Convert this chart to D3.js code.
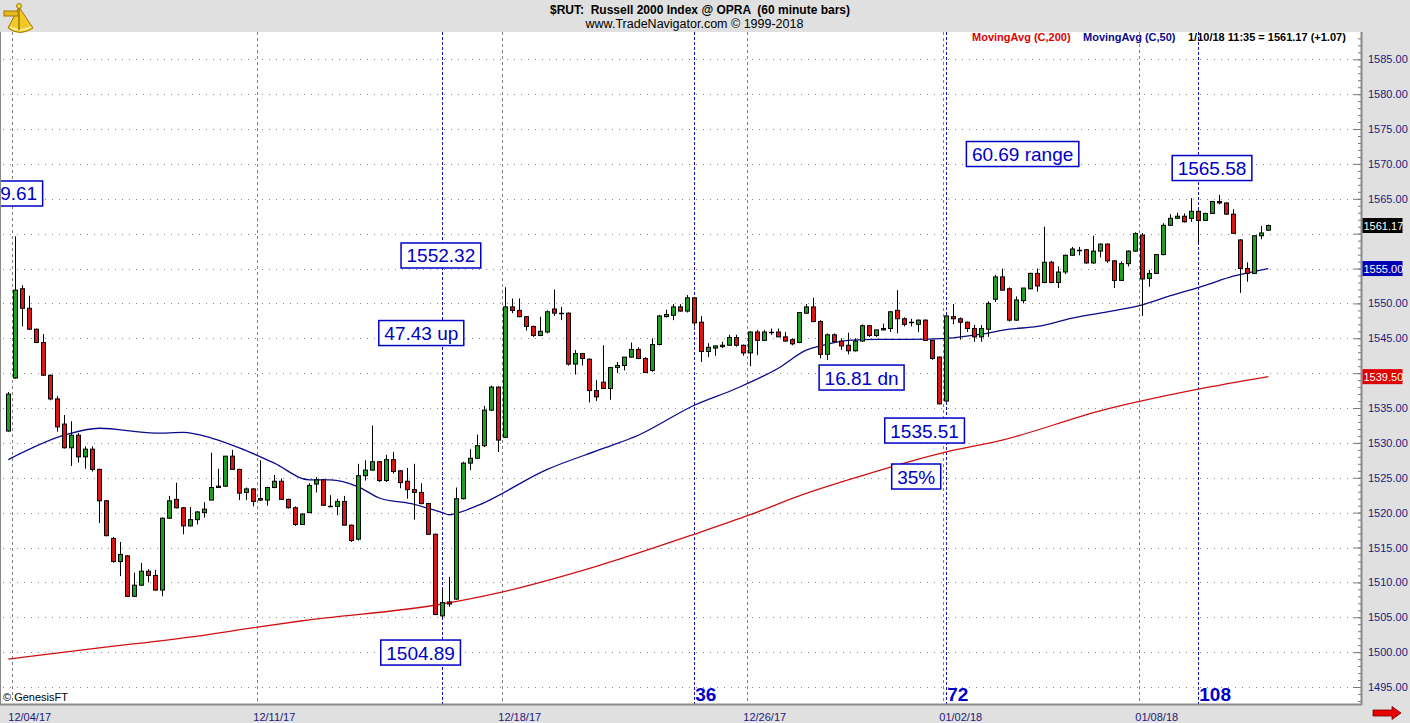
<!DOCTYPE html>
<html>
<head>
<meta charset="utf-8">
<style>
    body, html { margin: 0; padding: 0; background: #fff; }
    svg { display: block; font-family: "Liberation Sans", Arial, sans-serif; }
</style>
</head>
<body>
<svg width="1410" height="723"></svg>
<script src="https://d3js.org/d3.v7.min.js"></script>
<script>
// 60 minute bars, index 0 = last bar of 12/01/17
var opens = [1531.7,1539.3,1552.1,1549.3,1546.3,1544.4,1539.7,1536.3,1532.7,1529.3,1531.1,1528.0,1529.1,1526.2,1521.7,1516.3,1513.0,1513.8,1508.0,1509.6,
    1511.6,1511.0,1508.9,1519.2,1521.9,1520.7,1518.1,1519.0,1520.0,1521.8,1523.6,1523.8,1528.1,1526.2,1522.9,1523.4,1522.0,1521.8,1523.6,1524.5,
    1521.9,1520.7,1518.3,1520.0,1524.1,1524.7,1521.05,1520.9,1521.6,1518.2,1516.2,1525.3,1526.1,1527.3,1524.6,1527.6,1526.0,1524.5,1523.3,1522.9,
    1521.3,1516.9,1505.2,1507.2,1507.6,1522.0,1527.1,1527.8,1529.6,1534.7,1538.0,1530.8,1549.5,1549.0,1548.1,1546.7,1545.4,1545.9,1549.2,1548.6,
    1548.6,1541.3,1542.8,1542.0,1537.5,1538.7,1537.8,1540.8,1541.1,1542.3,1543.4,1542.1,1540.4,1544.1,1548.1,1548.3,1549.5,1548.9,1550.8,1547.3,
    1543.1,1543.6,1543.8,1544.0,1545.1,1544.0,1542.9,1545.9,1544.7,1545.9,1545.9,1545.2,1544.8,1544.4,1548.6,1549.5,1547.4,1542.7,1545.5,1544.6,
    1544.0,1543.2,1544.6,1546.8,1545.4,1546.2,1546.4,1549.0,1547.8,1547.3,1547.0,1547.6,1544.7,1542.3,1536.0,1548.1,1547.8,1547.3,1546.4,1545.2,
    1546.3,1550.6,1553.8,1552.1,1547.6,1550.4,1552.1,1554.3,1553.0,1555.9,1553.0,1554.5,1556.9,1557.7,1557.7,1555.8,1557.5,1558.5,1556.1,1553.3,
    1555.7,1557.5,1559.8,1553.6,1554.3,1557.0,1561.2,1562.2,1562.5,1562.2,1563.2,1561.9,1562.9,1564.6,1564.4,1562.8,1559.1,1555.0,1554.3,1559.7,
    1560.5];
var highs = [1537.3,1559.61,1552.6,1551.1,1546.4,1545.6,1539.8,1536.7,1534.0,1533.1,1531.4,1529.5,1529.5,1526.3,1521.8,1516.5,1515.8,1513.9,1511.4,1512.8,
    1511.9,1511.8,1519.3,1522.4,1524.3,1520.8,1520.8,1520.2,1521.5,1528.6,1526.3,1528.1,1529.0,1526.3,1523.6,1523.5,1527.5,1523.7,1525.4,1524.9,
    1522.0,1520.9,1519.9,1524.2,1525.1,1524.8,1522.5,1522.0,1522.4,1518.3,1527.0,1527.5,1532.5,1527.4,1528.3,1528.7,1526.1,1526.4,1527.0,1524.2,
    1521.4,1517.0,1509.2,1510.8,1523.6,1527.3,1529.1,1531.2,1535.3,1538.2,1538.1,1552.32,1550.7,1550.7,1548.2,1546.8,1548.1,1549.0,1552.0,1549.5,
    1548.7,1543.3,1542.9,1542.1,1539.0,1544.0,1540.9,1541.6,1542.3,1544.4,1543.7,1542.3,1545.0,1548.3,1549.1,1549.9,1549.9,1551.2,1550.9,1548.2,
    1544.3,1544.0,1544.5,1545.5,1545.5,1544.1,1546.0,1546.2,1546.2,1546.4,1546.4,1545.9,1545.0,1548.7,1549.9,1550.8,1547.6,1545.7,1545.7,1545.0,
    1545.8,1545.0,1547.0,1546.9,1546.2,1547.1,1548.9,1551.9,1548.0,1547.8,1547.7,1547.7,1544.8,1542.4,1548.3,1549.9,1548.0,1547.4,1546.9,1546.9,
    1550.3,1554.1,1555.0,1552.3,1551.0,1552.2,1554.4,1555.0,1561.0,1556.1,1555.3,1557.0,1558.1,1558.1,1557.8,1559.7,1558.6,1558.6,1556.2,1556.0,
    1557.6,1560.2,1560.1,1554.8,1557.1,1561.5,1562.8,1563.0,1562.9,1565.1,1563.4,1563.0,1564.7,1565.58,1564.5,1563.5,1559.2,1555.9,1559.7,1561.1,
    1561.3];
var lows = [1531.6,1539.2,1546.7,1546.2,1544.3,1539.6,1536.1,1531.6,1529.2,1526.7,1527.2,1526.3,1525.9,1518.5,1516.6,1512.8,1510.9,1507.9,1507.9,1509.5,
    1510.0,1508.8,1508.0,1519.1,1520.6,1516.9,1518.0,1518.3,1519.3,1521.8,1523.6,1523.7,1526.2,1521.8,1521.8,1520.9,1521.7,1521.0,1523.5,1521.9,
    1520.6,1518.1,1518.3,1520.0,1522.9,1521.0,1520.9,1519.6,1518.2,1515.8,1516.0,1524.6,1526.0,1524.4,1524.4,1525.6,1523.5,1522.0,1519.0,1521.2,
    1516.8,1505.3,1504.89,1506.5,1507.5,1521.9,1526.1,1527.7,1529.4,1534.6,1528.7,1530.7,1548.6,1548.0,1546.1,1545.2,1545.3,1545.7,1548.2,1547.6,
    1541.1,1539.8,1541.1,1535.8,1536.0,1537.8,1536.2,1540.0,1540.4,1542.2,1542.0,1540.0,1540.2,1544.0,1548.0,1547.6,1548.8,1548.7,1546.7,1541.6,
    1542.3,1542.5,1543.6,1543.9,1543.8,1542.5,1541.0,1542.6,1544.6,1545.5,1545.2,1544.5,1544.0,1544.3,1548.5,1547.3,1542.1,1541.9,1544.4,1543.3,
    1542.7,1543.1,1544.5,1545.2,1545.2,1546.1,1545.9,1545.7,1546.7,1546.7,1545.9,1544.6,1541.9,1535.51,1535.9,1547.0,1544.8,1545.9,1544.5,1544.5,
    1545.2,1550.2,1551.9,1547.4,1547.5,1550.0,1552.0,1551.7,1552.9,1552.9,1552.2,1554.2,1556.8,1556.9,1555.7,1555.7,1556.6,1555.8,1552.2,1553.2,
    1555.3,1557.4,1548.2,1552.4,1554.2,1556.9,1561.1,1562.1,1561.6,1561.7,1558.8,1561.8,1562.8,1564.2,1562.7,1560.0,1551.5,1553.1,1554.2,1559.2,
    1560.4];
var closes = [1537.0,1551.9,1549.3,1546.3,1544.4,1539.7,1536.3,1532.3,1529.3,1531.1,1528.0,1529.1,1526.2,1521.7,1516.7,1513.0,1514.0,1508.0,1509.6,1511.6,
    1511.0,1508.9,1519.2,1521.7,1520.7,1518.1,1519.0,1520.1,1520.5,1523.6,1523.8,1528.1,1526.2,1522.8,1523.4,1521.6,1521.8,1523.6,1524.5,1521.9,
    1520.7,1518.3,1519.8,1523.9,1524.7,1521.05,1520.9,1521.6,1518.2,1516.0,1525.3,1526.1,1527.3,1524.6,1527.6,1525.9,1524.3,1523.3,1522.9,1521.3,
    1516.9,1505.4,1507.1,1506.9,1522.0,1527.1,1527.8,1529.6,1534.7,1538.0,1530.4,1549.5,1549.0,1548.1,1546.7,1545.4,1546.0,1548.8,1548.6,1548.6,
    1541.3,1542.8,1542.1,1537.5,1536.6,1537.8,1540.8,1541.1,1542.3,1543.4,1542.1,1540.1,1544.1,1548.2,1548.4,1549.5,1548.9,1550.8,1547.2,1543.1,
    1543.7,1543.9,1544.0,1545.1,1544.0,1542.9,1545.9,1544.7,1545.9,1545.95,1545.2,1544.6,1544.2,1548.7,1549.5,1547.4,1542.7,1545.5,1544.5,1543.9,
    1543.2,1544.6,1546.8,1545.4,1546.2,1546.4,1548.8,1547.8,1547.0,1547.3,1547.6,1544.7,1542.1,1535.6,1548.2,1547.8,1547.3,1546.4,1545.2,1546.4,
    1550.0,1553.8,1551.9,1547.6,1550.5,1552.2,1554.3,1552.5,1555.9,1553.0,1554.5,1556.9,1557.8,1557.7,1555.8,1557.5,1558.5,1556.1,1553.3,1555.7,
    1557.5,1560.0,1553.5,1554.3,1557.0,1561.2,1562.2,1562.5,1561.7,1563.2,1561.9,1562.9,1564.6,1564.4,1562.8,1560.05,1555.0,1554.3,1559.7,1560.1,
    1561.17];

// moving averages (bar index, value)
var ma50Bars = [0,8,13,21,25,29,33,38,43,46,50,53,58,62,63,64,67,77,85,90,98,104,110,114,116,120,124,129,134,139,143,147,152,157,162,166,171,175,180];
var ma50Vals = [1527.6,1531.1,1532.1,1531.4,1531.5,1530.7,1529.3,1527.1,1524.7,1524.7,1523.7,1522.1,1521.2,1520.0,1519.7,1519.9,1521.0,1526.2,1529.2,1531.1,
    1535.4,1537.8,1540.7,1543.3,1543.9,1544.7,1544.85,1544.85,1545.0,1545.6,1546.3,1546.7,1547.9,1548.8,1549.8,1551.1,1552.6,1553.9,1555.0];
var ma200Bars = [0,13,27,35,42,62,70,84,98,106,113,122,134,142,156,170,180];
var ma200Vals = [1499.0,1500.6,1502.3,1503.5,1504.5,1506.9,1508.5,1512.3,1516.9,1519.7,1522.4,1525.3,1528.7,1530.4,1534.6,1537.7,1539.5];

// date separators (between bars) and their labels
var dateBars = [0.5, 35.5, 70.5, 105.5, 133.5, 161.5];
var dateLabels = ["12/04/17", "12/11/17", "12/18/17", "12/26/17", "01/02/18", "01/08/18"];
// bar counts from the 1504.89 low
var countBars = [62, 98, 134, 170];
var countLabels = ["", "36", "72", "108"];

// boxed notes (the first one runs off the left edge, only "9.61" of it shows)
var noteText = ["9.61", "1552.32", "47.43 up", "1504.89", "16.81 dn", "1535.51", "35%", "60.69 range", "1565.58"];
var noteBar = [-0.95, 61.8, 59.0, 58.9, 121.9, 130.9, 129.7, 144.9, 171.96];
var noteVal = [1565.76, 1556.87, 1545.75, 1499.94, 1539.37, 1531.77, 1525.18, 1571.42, 1569.41];

var yTicks = d3.range(1495, 1586, 5);

// last values shown in the right axis
var markerVals = [1561.17, 1555.00, 1539.50];
var markerFills = ["#000", "#0000b4", "#e00000"];

var width = 1410, height = 723;
var plotLeft = 1, plotRight = 1361, plotTop = 32, plotBottom = 704;

var svg = d3.select("svg");
var x = d3.scaleLinear().domain([0, 180]).range([8.3, 1268.3]);
var y = d3.scaleLinear().domain([1495, 1585]).range([687, 59.3]);

// backgrounds
svg.append("rect").attr("width", width).attr("height", height).attr("fill", "#e0e0e0");
svg.append("rect").attr("x", plotLeft).attr("y", plotTop)
    .attr("width", plotRight - plotLeft).attr("height", plotBottom - plotTop).attr("fill", "#fff");

svg.append("defs").append("clipPath").attr("id", "plot")
    .append("rect").attr("x", plotLeft).attr("y", plotTop)
    .attr("width", plotRight - plotLeft).attr("height", plotBottom - plotTop);

var plot = svg.append("g").attr("clip-path", "url(#plot)");

// horizontal dotted grid
plot.selectAll(".hgrid").data(yTicks).enter().append("line")
    .attr("x1", plotLeft + 2).attr("x2", plotRight - 9)
    .attr("y1", function(d) { return Math.round(y(d)) + 0.5; })
    .attr("y2", function(d) { return Math.round(y(d)) + 0.5; })
    .attr("stroke", "#8a8a8a").attr("stroke-dasharray", "1 6");

// vertical date lines
plot.selectAll(".vgrid").data(dateBars).enter().append("line")
    .attr("x1", function(d) { return Math.round(x(d)) + 0.5; })
    .attr("x2", function(d) { return Math.round(x(d)) + 0.5; })
    .attr("y1", plotTop).attr("y2", plotBottom)
    .attr("stroke", "#808080").attr("stroke-dasharray", "3 3");

// count lines
plot.selectAll(".cgrid").data(countBars).enter().append("line")
    .attr("x1", function(d) { return Math.round(x(d)) + 0.5; })
    .attr("x2", function(d) { return Math.round(x(d)) + 0.5; })
    .attr("y1", plotTop).attr("y2", plotBottom)
    .attr("stroke", "#1010b0").attr("stroke-dasharray", "3 2");

// moving averages
var line = d3.line()
    .x(function(d) { return x(d[0]); })
    .y(function(d) { return y(d[1]); })
    .curve(d3.curveMonotoneX);

plot.append("path").datum(d3.zip(ma200Bars, ma200Vals)).attr("d", line)
    .attr("fill", "none").attr("stroke", "#d01010").attr("stroke-width", 1.3);
plot.append("path").datum(d3.zip(ma50Bars, ma50Vals)).attr("d", line)
    .attr("fill", "none").attr("stroke", "#0a0a8c").attr("stroke-width", 1.3);

// candles
var bars = d3.range(opens.length).map(function(i) {
    return { i: i, o: opens[i], h: highs[i], l: lows[i], c: closes[i] };
});

var candle = plot.selectAll(".candle").data(bars).enter().append("g");

candle.append("line")
    .attr("x1", function(d) { return Math.round(x(d.i)) + 0.5; })
    .attr("x2", function(d) { return Math.round(x(d.i)) + 0.5; })
    .attr("y1", function(d) { return y(d.h); })
    .attr("y2", function(d) { return y(d.l); })
    .attr("stroke", "#000").attr("stroke-width", 1);

candle.filter(function(d) { return Math.abs(d.o - d.c) >= 0.15; })
    .append("rect")
    .attr("x", function(d) { return Math.round(x(d.i)) - 2 + 0.5; })
    .attr("width", 4)
    .attr("y", function(d) { return y(Math.max(d.o, d.c)); })
    .attr("height", function(d) { return Math.max(1, y(Math.min(d.o, d.c)) - y(Math.max(d.o, d.c))); })
    .attr("fill", function(d) { return d.c >= d.o ? "#1f9f1f" : "#dc1414"; })
    .attr("stroke", "#000").attr("stroke-width", 1);

candle.filter(function(d) { return Math.abs(d.o - d.c) < 0.15; })
    .append("line")
    .attr("x1", function(d) { return Math.round(x(d.i)) - 2; })
    .attr("x2", function(d) { return Math.round(x(d.i)) + 3; })
    .attr("y1", function(d) { return Math.round(y(d.c)) + 0.5; })
    .attr("y2", function(d) { return Math.round(y(d.c)) + 0.5; })
    .attr("stroke", "#000").attr("stroke-width", 1.5);

// boxed notes
noteText.forEach(function(t, k) {
    var g = plot.append("g");
    var cx = x(noteBar[k]);
    var txt = g.append("text")
        .attr("y", y(noteVal[k]) + 7)
        .attr("font-size", "19px").attr("fill", "#0000c8")
        .text(t);
    var tw = txt.node().getComputedTextLength();
    // the first box is only partly on screen: keep its right edge where it was
    var w = k === 0 ? 82 : tw + 11;
    var left = cx - w / 2;
    txt.attr("x", k === 0 ? left + w - 5.5 - tw : cx - tw / 2);
    g.insert("rect", "text")
        .attr("x", left).attr("y", y(noteVal[k]) - 12.5)
        .attr("width", w).attr("height", 25)
        .attr("fill", "#fff").attr("stroke", "#0000c8").attr("stroke-width", 1.5);
});

// count labels
plot.selectAll(".count").data(countBars).enter().append("text")
    .attr("x", function(d) { return x(d) + 1; })
    .attr("y", 701)
    .attr("font-size", "19px").attr("font-weight", "bold").attr("fill", "#0000c8")
    .text(function(d, k) { return countLabels[k]; });

plot.append("text").attr("x", 3).attr("y", 701)
    .attr("font-size", "11px").attr("fill", "#000").text("\u00a9 GenesisFT");

// legend
var legend = svg.append("text").attr("y", 41).attr("font-size", "11px").attr("font-weight", "bold");
legend.append("tspan").attr("x", 972).attr("fill", "#e00000").text("MovingAvg (C,200)");
legend.append("tspan").attr("x", 1083).attr("fill", "#0a0a8c").text("MovingAvg (C,50)");
legend.append("tspan").attr("x", 1188).attr("fill", "#000").text("1/10/18 11:35 = 1561.17 (+1.07)");

// frame
svg.append("line").attr("x1", 0.5).attr("x2", 0.5).attr("y1", plotTop).attr("y2", plotBottom + 1)
    .attr("stroke", "#888").attr("stroke-width", 1);
svg.append("line").attr("x1", 0).attr("x2", plotRight + 1).attr("y1", plotBottom + 0.5).attr("y2", plotBottom + 0.5)
    .attr("stroke", "#8a8a8a").attr("stroke-width", 2);

// right axis
svg.append("g").attr("transform", "translate(" + plotRight + ",0)")
    .call(d3.axisLeft(y).tickValues(d3.range(1493, 1589, 1)).tickSize(3).tickFormat(""))
    .call(function(g) { g.select(".domain").remove(); g.selectAll("line").attr("stroke", "#777"); });
svg.append("g").attr("transform", "translate(" + plotRight + ",0)")
    .call(d3.axisLeft(y).tickValues(yTicks).tickSize(8).tickFormat(""))
    .call(function(g) { g.select(".domain").remove(); g.selectAll("line").attr("stroke", "#777"); });
svg.append("line").attr("x1", plotRight + 0.5).attr("x2", plotRight + 0.5)
    .attr("y1", plotTop).attr("y2", plotBottom + 1).attr("stroke", "#8a8a8a").attr("stroke-width", 2);

// labels hidden behind a last value marker are left out
var labelTicks = yTicks.filter(function(v) {
    return markerVals.every(function(m) { return Math.abs(y(v) - y(m)) > 13; });
});
svg.append("g").attr("transform", "translate(" + (plotRight + 1) + ",0)")
    .call(d3.axisRight(y).tickValues(labelTicks).tickSize(0).tickPadding(6).tickFormat(d3.format(".2f")))
    .call(function(g) {
        g.select(".domain").remove();
        g.selectAll("text").attr("fill", "#1a1a7a").attr("font-size", "11px")
            .attr("font-family", "'Liberation Sans', Arial, sans-serif");
    });

// last value markers
markerVals.forEach(function(v, k) {
    svg.append("rect").attr("x", plotRight + 1.5).attr("y", y(v) - 7.5)
        .attr("width", 40).attr("height", 15).attr("fill", markerFills[k]);
    svg.append("text").attr("x", plotRight + 2.5).attr("y", y(v) + 4)
        .attr("font-size", "11px").attr("fill", "#fff").text(d3.format(".2f")(v));
});

// bottom date axis
svg.append("g").attr("transform", "translate(0," + plotBottom + ")")
    .call(d3.axisBottom(x).tickValues(dateBars).tickSize(0).tickPadding(9)
        .tickFormat(function(d, k) { return dateLabels[k]; }))
    .call(function(g) {
        g.select(".domain").remove();
        g.selectAll("text").attr("text-anchor", "start").attr("dx", "-4")
            .attr("fill", "#1a1a7a").attr("font-size", "11px")
            .attr("font-family", "'Liberation Sans', Arial, sans-serif");
    });

// arrow bottom right
svg.append("path").attr("d", "M1373,710 L1392,710 L1392,706.5 L1401,713 L1392,719.5 L1392,716 L1373,716 Z")
    .attr("fill", "#e80000").attr("stroke", "#700").attr("stroke-width", 0.8);

// header
svg.append("text").attr("x", 700).attr("y", 13.5).attr("text-anchor", "middle")
    .attr("font-size", "12px").attr("font-weight", "bold").attr("xml:space", "preserve")
    .style("white-space", "pre")
    .text("$RUT:  Russell 2000 Index @ OPRA  (60 minute bars)");
svg.append("text").attr("x", 694.5).attr("y", 28).attr("text-anchor", "middle")
    .attr("font-size", "12.5px")
    .text("www.TradeNavigator.com \u00a9 1999-2018");

// sextant logo
var logo = svg.append("g");
logo.append("path").attr("d", "M19,7 L8,28 Q20,37 33,28 Z")
    .attr("fill", "#f0c828").attr("stroke", "#a07800").attr("stroke-width", 1);
logo.append("path").attr("d", "M10,27 Q20,33 31,27")
    .attr("fill", "none").attr("stroke", "#fff3a0").attr("stroke-width", 1.5);
logo.append("rect").attr("x", 4).attr("y", 11).attr("width", 14).attr("height", 5)
    .attr("fill", "#e8b820").attr("stroke", "#a07800");
logo.append("line").attr("x1", 19).attr("y1", 4).attr("x2", 19).attr("y2", 30)
    .attr("stroke", "#b08a00").attr("stroke-width", 2);
logo.append("circle").attr("cx", 19).attr("cy", 6).attr("r", 2.5).attr("fill", "#f6d84a").attr("stroke", "#a07800");
</script>
</body>
</html>
